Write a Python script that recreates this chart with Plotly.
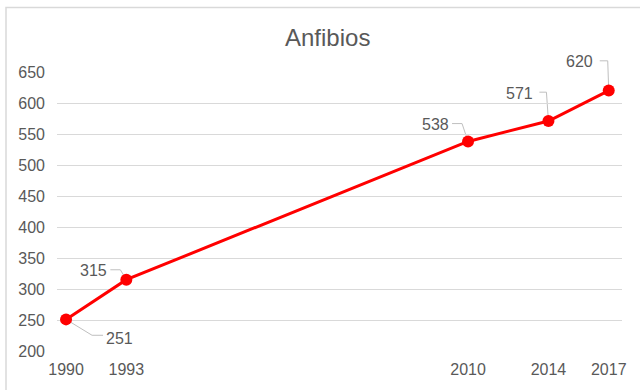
import plotly.graph_objects as go

# Data
years = [1990, 1993, 2010, 2014, 2017]
values = [251, 315, 538, 571, 620]
y_ticks = [200, 250, 300, 350, 400, 450, 500, 550, 600, 650]

# Layout geometry (pixels)
W, H = 640, 390
L, R, T, B = 57, 18, 72, 37
X_RANGE = [1989.55, 2017.66]
Y_RANGE = [200, 650]
plot_w = W - L - R
plot_h = H - T - B

FONT = "Liberation Sans, Arial, sans-serif"
RED = "#ff0000"
GRAY_TEXT = "#595959"
LEADER = "#bfbfbf"

# Data-label placement: leader path (pixel offsets from the point) and label centre offset
label_style = [
    dict(path=[(0, 0), (26, 16), (37, 16)], text=(53, 19)),
    dict(path=[(0, 0), (-6, -10), (-16, -10)], text=(-33, -9)),
    dict(path=[(0, 0), (-6, -18), (-16, -18)], text=(-33, -17)),
    dict(path=[(0, 0), (-2, -29), (-9, -29)], text=(-29, -28)),
    dict(path=[(0, 0), (-1, -30), (-9, -30)], text=(-29, -29)),
]


def to_paper(x, y, dx=0.0, dy=0.0):
    """Map a data point plus a pixel offset to paper coordinates."""
    px = (x - X_RANGE[0]) / (X_RANGE[1] - X_RANGE[0]) + dx / plot_w
    py = (y - Y_RANGE[0]) / (Y_RANGE[1] - Y_RANGE[0]) - dy / plot_h
    return px, py


fig = go.Figure()

annotations = []
shapes = []
for x, v, st in zip(years, values, label_style):
    pts = [to_paper(x, v, dx, dy) for dx, dy in st["path"]]
    path = "M " + " L ".join(f"{a},{b}" for a, b in pts)
    shapes.append(dict(type="path", xref="paper", yref="paper", path=path,
                       line=dict(color=LEADER, width=1), layer="below"))
    tx, ty = to_paper(x, v, *st["text"])
    annotations.append(dict(x=tx, y=ty, xref="paper", yref="paper",
                            text=str(v), showarrow=False,
                            xanchor="center", yanchor="middle",
                            font=dict(size=16, color=GRAY_TEXT, family=FONT)))

fig.add_trace(go.Scatter(x=years, y=values, mode="lines+markers",
                         line=dict(color=RED, width=3),
                         marker=dict(color=RED, size=12),
                         cliponaxis=False,
                         showlegend=False, name="Anfibios"))

annotations.append(dict(text="Anfibios", x=(327 - L) / plot_w,
                        y=(H - B - 37) / plot_h,
                        xref="paper", yref="paper", showarrow=False,
                        xanchor="center", yanchor="middle",
                        font=dict(size=24, color=GRAY_TEXT, family=FONT)))

# Chart-area border
shapes.append(dict(type="rect", xref="paper", yref="paper",
                   x0=(6 - L) / plot_w, x1=1.2,
                   y0=-0.3, y1=(H - B - 7) / plot_h,
                   line=dict(color="#d9d9d9", width=1.5), layer="below"))

fig.update_layout(
    width=W, height=H,
    margin=dict(l=L, r=R, t=T, b=B, pad=0),
    paper_bgcolor="white", plot_bgcolor="white",
    annotations=annotations, shapes=shapes,
    font=dict(family=FONT, color=GRAY_TEXT, size=16),
    xaxis=dict(range=X_RANGE, tickmode="array", tickvals=years,
               ticktext=[str(y) for y in years], showgrid=False, zeroline=False,
               showline=False, ticks="", ticklabelstandoff=7,
               tickfont=dict(size=16, color=GRAY_TEXT)),
    yaxis=dict(range=Y_RANGE, tickmode="array", tickvals=y_ticks,
               showgrid=True, gridcolor="#d9d9d9", gridwidth=1, zeroline=False,
               showline=False, ticks="", ticklabelstandoff=11,
               tickfont=dict(size=16, color=GRAY_TEXT)),
)

fig.write_html("out.html")
